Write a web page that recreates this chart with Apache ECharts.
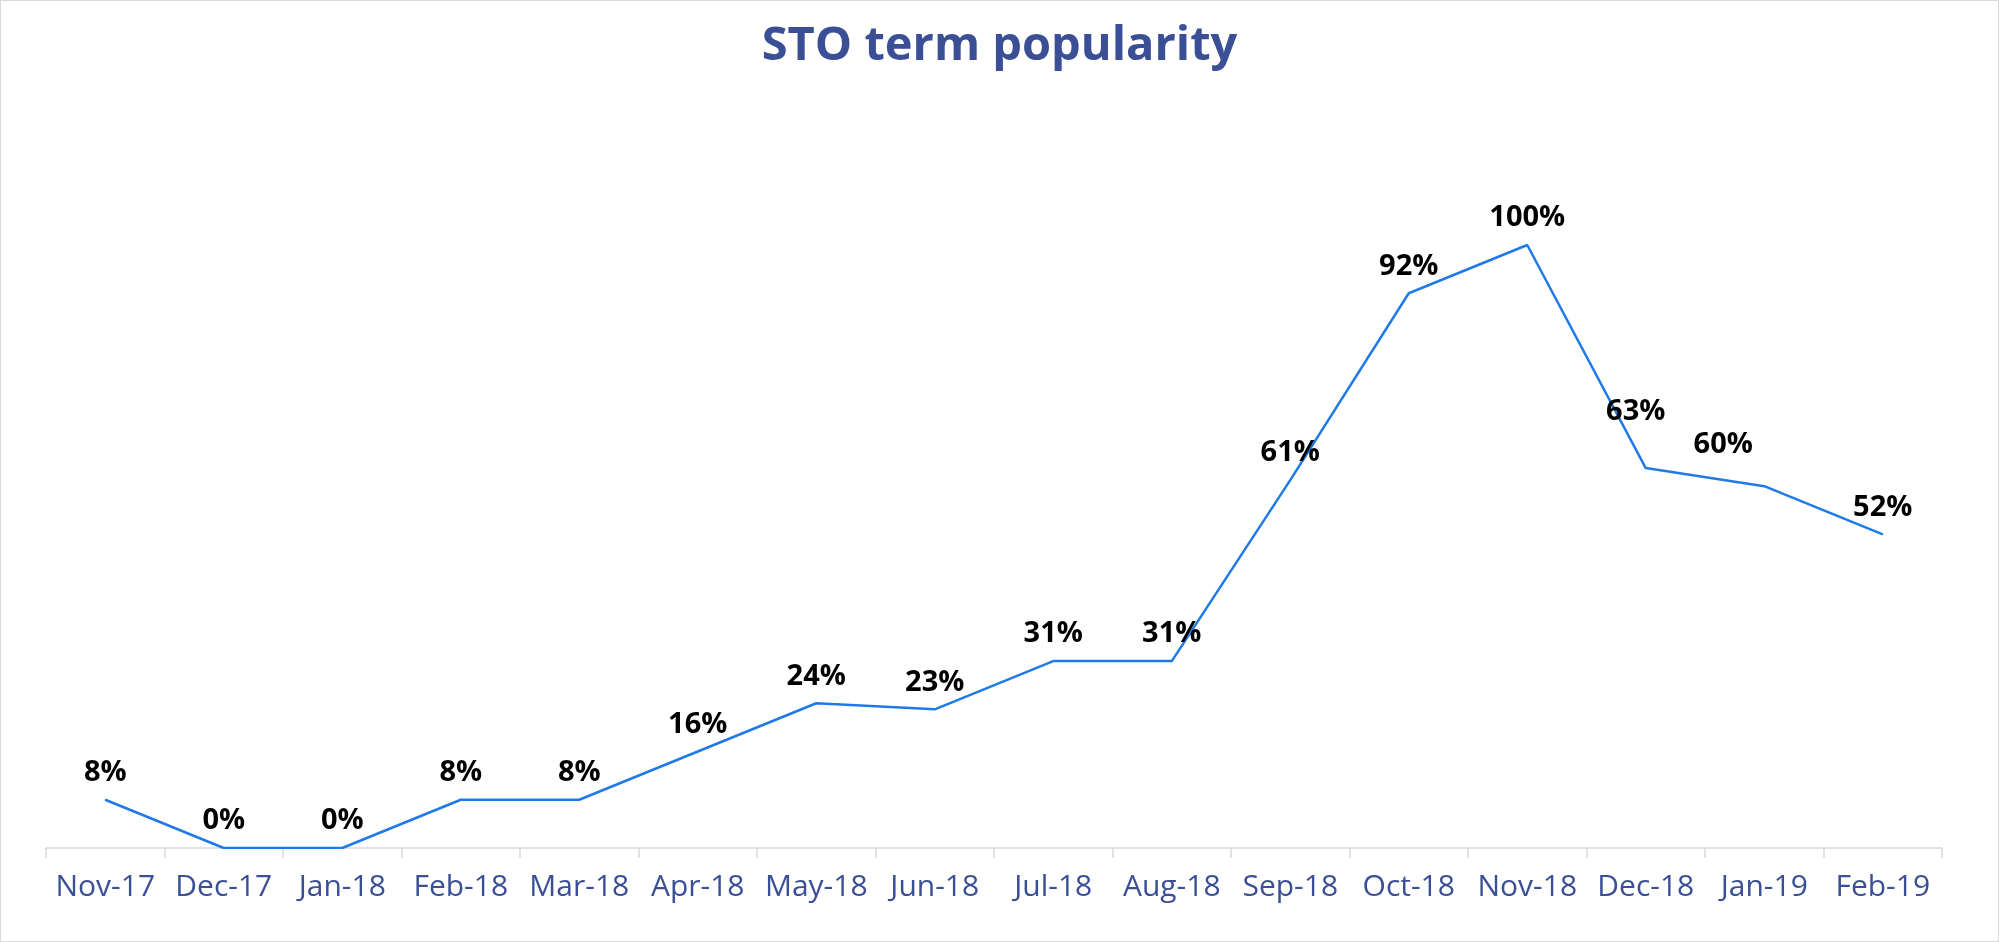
<!DOCTYPE html>
<html>
<head>
<meta charset="utf-8">
<script src="https://cdn.jsdelivr.net/npm/echarts@6/dist/echarts.min.js"></script>
<style>
  html, body { margin: 0; padding: 0; background: #fff; }
  #chart { width: 1999px; height: 942px; box-sizing: border-box; border: 1px solid #d9d9d9; }
</style>
</head>
<body>
<div id="chart"></div>
<script>
const months = ['Nov-17', 'Dec-17', 'Jan-18', 'Feb-18', 'Mar-18', 'Apr-18', 'May-18', 'Jun-18',
  'Jul-18', 'Aug-18', 'Sep-18', 'Oct-18', 'Nov-18', 'Dec-18', 'Jan-19', 'Feb-19']
const popularity = [8, 0, 0, 8, 8, 16, 24, 23, 31, 31, 61, 92, 100, 63, 60, 52]

// a couple of labels sit off their point in the original
const labelShift = { 13: [-10, -29], 14: [-41, -14] }

const chart = echarts.init(document.getElementById('chart'))

const seriesData = popularity.map((v, i) => {
  if (!labelShift[i]) return v
  return { value: v, label: { offset: labelShift[i] } }
})

chart.setOption({
  animation: false,
  title: {
    text: 'STO term popularity',
    left: 'center',
    top: 17,
    textStyle: {
      fontFamily: 'Open Sans',
      fontWeight: 'bold',
      fontSize: 47,
      color: '#3a4f96'
    }
  },
  grid: { left: 45, right: 56, top: 244, bottom: 93 },
  xAxis: {
    type: 'category',
    data: months,
    boundaryGap: true,
    axisLine: { lineStyle: { color: '#d9d9d9', width: 1.5 } },
    axisTick: { show: true, length: 10, lineStyle: { color: '#d9d9d9', width: 1.5 } },
    axisLabel: {
      interval: 0,
      color: '#3a4f96',
      fontFamily: 'Open Sans',
      fontSize: 30,
      margin: 24
    }
  },
  yAxis: {
    type: 'value',
    min: 0,
    max: 100,
    show: false,
    splitLine: { show: false }
  },
  series: [
    {
      type: 'line',
      data: seriesData,
      symbol: 'circle',
      symbolSize: 1,
      itemStyle: { color: '#1f7ae8' },
      lineStyle: { color: '#1f7ae8', width: 2.5 },
      label: {
        show: true,
        position: 'top',
        distance: 12,
        formatter: '{c}%',
        color: '#000',
        fontFamily: 'Open Sans',
        fontWeight: 'bold',
        fontSize: 29
      }
    }
  ]
})
</script>
</body>
</html>
